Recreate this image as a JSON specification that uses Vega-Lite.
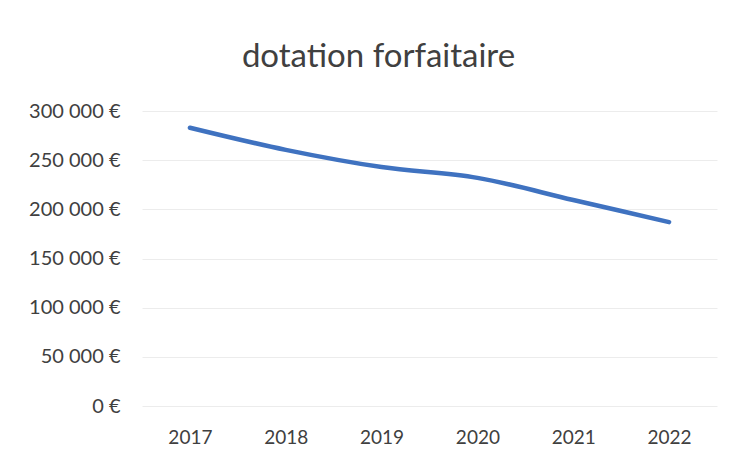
{
  "$schema": "https://vega.github.io/schema/vega-lite/v6.json",
  "width": 575,
  "height": 295,
  "autosize": "none",
  "padding": {"left": 142, "top": 111, "right": 22, "bottom": 53},
  "background": "white",
  "title": {
    "text": "dotation forfaitaire",
    "anchor": "middle",
    "frame": "group",
    "dx": -51,
    "offset": 27,
    "font": "Lato",
    "fontSize": 33,
    "fontWeight": "normal",
    "color": "#404040"
  },
  "data": {
    "values": [
      {"annee": "2017", "montant": 283000},
      {"annee": "2018", "montant": 260500},
      {"annee": "2019", "montant": 243000},
      {"annee": "2020", "montant": 232000},
      {"annee": "2021", "montant": 209500},
      {"annee": "2022", "montant": 187000}
    ]
  },
  "mark": {"type": "line", "color": "#3F72C0", "strokeWidth": 4.5, "strokeCap": "round", "strokeJoin": "round", "interpolate": "monotone"},
  "encoding": {
    "x": {
      "field": "annee",
      "type": "ordinal",
      "scale": {"paddingInner": 0, "paddingOuter": 0},
      "axis": {
        "title": null,
        "labelAngle": 0,
        "ticks": false,
        "domain": false,
        "labelPadding": 22,
        "labelFont": "Lato",
        "labelFontSize": 19,
        "labelColor": "#404040"
      }
    },
    "y": {
      "field": "montant",
      "type": "quantitative",
      "scale": {"domain": [0, 300000], "nice": false},
      "axis": {
        "title": null,
        "values": [0, 50000, 100000, 150000, 200000, 250000, 300000],
        "labelExpr": "replace(format(datum.value, ',.0f'), regexp(',', 'g'), ' ') + ' €'",
        "ticks": false,
        "domain": false,
        "labelPadding": 22,
        "labelFont": "Lato",
        "labelFontSize": 20,
        "labelColor": "#404040",
        "gridColor": "#ececec",
        "gridWidth": 1
      }
    }
  },
  "config": {"view": {"stroke": null}}
}
